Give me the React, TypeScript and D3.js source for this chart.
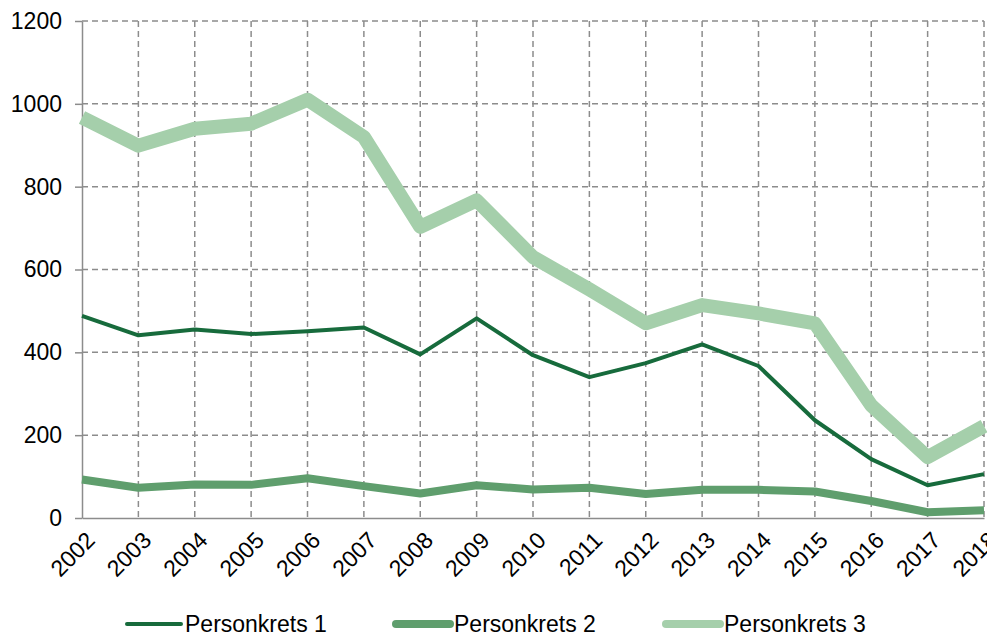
import { useEffect, useRef } from "react";
import * as d3 from "d3";

const years = ["2002", "2003", "2004", "2005", "2006", "2007", "2008", "2009", "2010", "2011", "2012", "2013", "2014", "2015", "2016", "2017", "2018"];
const krets1 = [488, 441, 455, 444, 451, 460, 395, 482, 393, 340, 374, 419, 367, 236, 142, 79, 106];
const krets2 = [93, 73, 81, 80, 96, 77, 59, 79, 69, 73, 58, 68, 68, 64, 41, 14, 19];
const krets3 = [967, 899, 940, 952, 1010, 920, 703, 767, 630, 552, 470, 514, 494, 470, 272, 147, 222];
const seriesNames = ["Personkrets 1", "Personkrets 2", "Personkrets 3"];
const yTicks = [0, 200, 400, 600, 800, 1000, 1200];

const App = () => {
    const svgRef = useRef<SVGSVGElement>(null);

    useEffect(() => {
        const svg = d3.select(svgRef.current);
        svg.selectAll("*").remove();

        const left = 82, right = 984, top = 21, bottom = 518;
        const font = "Arial, 'Liberation Sans', sans-serif";
        const fontSize = 23;
        const gridColor = "#8c8c8c";

        const x = d3.scalePoint<string>().domain(years).range([left, right]);
        const y = d3.scaleLinear().domain([0, 1200]).range([bottom, top]);

        // grid
        const grid = svg.append("g");
        grid.selectAll("line.h")
            .data(yTicks.filter(t => t > 0))
            .join("line")
            .attr("x1", left).attr("x2", right)
            .attr("y1", d => y(d)).attr("y2", d => y(d))
            .attr("stroke", gridColor).attr("stroke-width", 1.5)
            .attr("stroke-dasharray", "6,4");
        grid.selectAll("line.v")
            .data(years.slice(1))
            .join("line")
            .attr("x1", d => x(d)!).attr("x2", d => x(d)!)
            .attr("y1", top).attr("y2", bottom)
            .attr("stroke", gridColor).attr("stroke-width", 1.5)
            .attr("stroke-dasharray", "6,4");

        // y axis
        const yAxis = d3.axisLeft(y).tickValues(yTicks).tickFormat(d3.format("d")).tickSize(7).tickPadding(13).tickSizeOuter(0);
        const yg = svg.append("g").attr("transform", `translate(${left},0)`).call(yAxis);
        yg.select(".domain").attr("stroke", gridColor).attr("stroke-width", 1.5);
        yg.selectAll(".tick line").attr("stroke", gridColor).attr("stroke-width", 1.5);
        yg.selectAll(".tick text").attr("font-size", fontSize).attr("font-family", font).attr("fill", "#000");

        // x axis
        const xAxis = d3.axisBottom(x).tickSize(0).tickSizeOuter(0);
        const xg = svg.append("g").attr("transform", `translate(0,${bottom})`).call(xAxis);
        xg.select(".domain").attr("stroke", gridColor).attr("stroke-width", 1.5);
        xg.selectAll(".tick text")
            .attr("font-size", fontSize).attr("font-family", font).attr("fill", "#000")
            .attr("text-anchor", "end")
            .attr("dy", "0.35em")
            .attr("transform", "translate(6,16) rotate(-45)");

        const series = [
            { values: krets1, color: "#176b3c", width: 4 },
            { values: krets2, color: "#5f9e6d", width: 8 },
            { values: krets3, color: "#a5cfab", width: 14 },
        ];

        const line = d3.line<number>()
            .x((d, i) => x(years[i])!)
            .y(d => y(d));

        [2, 1, 0].forEach(k => {
            const s = series[k];
            svg.append("path")
                .datum(s.values)
                .attr("d", line)
                .attr("fill", "none")
                .attr("stroke", s.color)
                .attr("stroke-width", s.width)
                .attr("stroke-linejoin", "round");
        });

        // legend
        const legendX = [127, 396, 666];
        const legend = svg.append("g");
        seriesNames.forEach((name, i) => {
            const g = legend.append("g").attr("transform", `translate(${legendX[i]},624)`);
            g.append("line")
                .attr("x1", 0).attr("x2", 54)
                .attr("stroke", series[i].color)
                .attr("stroke-width", Math.min(series[i].width, 8))
                .attr("stroke-linecap", "round");
            g.append("text")
                .attr("x", 58).attr("y", 8)
                .attr("font-size", fontSize).attr("font-family", font)
                .text(name);
        });

        return () => {
            svg.selectAll("*").remove();
        };
    }, []);

    return (
        <svg ref={svgRef} width={987} height={633} style={{ position: "absolute", left: 0, top: 0 }}></svg>
    );
};

export default App;
